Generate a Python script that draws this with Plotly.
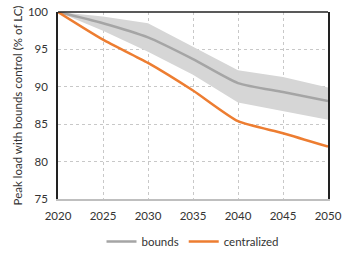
import plotly.graph_objects as go

years = [2020, 2025, 2030, 2035, 2040, 2045, 2050]
bounds_mean = [100, 98.5, 96.6, 93.7, 90.5, 89.3, 88.1]
bounds_upper = [100, 99.4, 98.5, 95.3, 92.2, 91.3, 89.9]
bounds_lower = [100, 97.5, 94.7, 91.6, 87.9, 86.8, 85.6]
centralized = [100, 96.3, 93.2, 89.5, 85.4, 83.8, 82.0]

gray = "#a5a5a5"
band = "#d6d6d6"
orange = "#ed7d31"
font = "Lato"

fig = go.Figure()
fig.add_trace(go.Scatter(x=years, y=bounds_upper, mode="lines", line=dict(width=0),
                         showlegend=False, hoverinfo="skip"))
fig.add_trace(go.Scatter(x=years, y=bounds_lower, mode="lines", line=dict(width=0),
                         fill="tonexty", fillcolor=band, showlegend=False, hoverinfo="skip"))
fig.add_trace(go.Scatter(x=years, y=bounds_mean, mode="lines", name="bounds",
                         line=dict(color=gray, width=2.5, shape="spline", smoothing=0.6)))
fig.add_trace(go.Scatter(x=years, y=centralized, mode="lines", name="centralized",
                         line=dict(color=orange, width=2.5, shape="spline", smoothing=0.6)))

fig.update_layout(
    width=351, height=253,
    margin=dict(l=58, r=23, t=12, b=54, autoexpand=False),
    paper_bgcolor="white", plot_bgcolor="white",
    font=dict(family=font, size=11.5, color="#333333"),
    showlegend=True,
    legend=dict(orientation="h", x=0.5, xanchor="center", y=-0.15, yanchor="top",
                traceorder="normal",
                font=dict(size=11.5, color="#333333"), itemwidth=30, tracegroupgap=0),
    xaxis=dict(range=[2020, 2050], tickmode="array", tickvals=years,
               ticktext=[str(y) for y in years], automargin=False,
               showgrid=True, gridcolor="#c8c8c8", griddash="dot", gridwidth=1,
               showline=True, linecolor="#bfbfbf", linewidth=2,
               ticks="", zeroline=False, ticklabelstandoff=5),
    yaxis=dict(range=[75, 100], tickmode="array", tickvals=[75, 80, 85, 90, 95, 100],
               automargin=False,
               showgrid=True, gridcolor="#c8c8c8", griddash="dot", gridwidth=1,
               showline=True, linecolor="#222222", linewidth=1.5, mirror=True,
               ticks="", zeroline=False, ticklabelstandoff=6,
               title=dict(text="Peak load with bounds control (% of LC)",
                          font=dict(size=11.5, color="#333333"), standoff=3)),
    shapes=[dict(type="line", xref="paper", yref="paper", x0=0, x1=1, y0=1, y1=1,
                 line=dict(color="#222222", width=1.5))],
)

fig.write_html("out.html", config={"displayModeBar": False},
               post_script="document.body.style.margin='0';document.body.style.overflow='hidden';")
